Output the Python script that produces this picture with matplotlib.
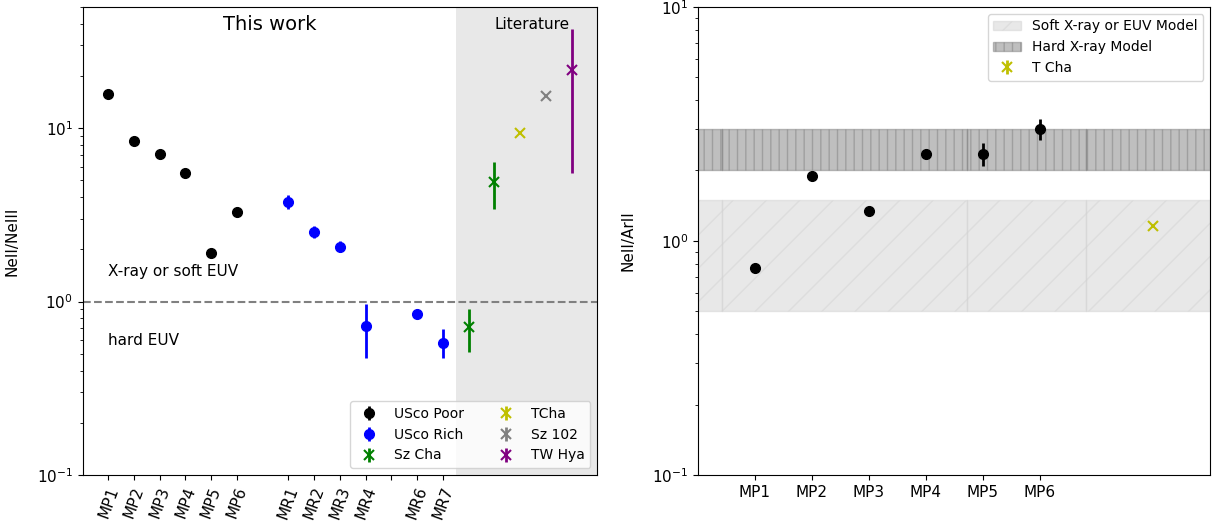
import numpy as np
import matplotlib
matplotlib.use('Agg')
import matplotlib.pyplot as plt
from matplotlib.patches import Patch

# left panel: NeII/NeIII
mp_labels = ['MP1', 'MP2', 'MP3', 'MP4', 'MP5', 'MP6']
mp_pos = [1, 2, 3, 4, 5, 6]
mp_ne3 = [15.7, 8.42, 7.09, 5.51, 1.91, 3.29]
mp_ne3_err = [0.3, 0.15, 0.12, 0.1, 0.05, 0.08]

mr_labels = ['MR1', 'MR2', 'MR3', 'MR4', '', 'MR6', 'MR7']
mr_pos = [8, 9, 10, 11, 12, 13, 14]
mr_pts_pos = [8, 9, 10, 11, 13, 14]
mr_ne3 = [3.76, 2.53, 2.07, 0.72, 0.853, 0.58]
mr_ne3_err = [0.35, 0.2, 0.15, 0.25, 0.05, 0.11]

szcha_pos = [15, 16]
szcha_ne3 = [0.71, 4.9]
szcha_err = [0.2, 1.5]
tcha_pos, tcha_ne3 = 17, 9.36
sz102_pos, sz102_ne3 = 18, 15.3
twhya_pos, twhya_ne3, twhya_err = 19, 21.5, 16.0

# right panel: NeII/ArII
ar_pos = [1, 2, 3, 4, 5, 6]
ar_vals = [0.767, 1.90, 1.34, 2.35, 2.35, 3.01]
ar_err = [0.03, 0.06, 0.05, 0.08, 0.27, 0.3]
tcha_ar_pos, tcha_ar = 8, 1.16
soft_model = (0.5, 1.5)
hard_model = (2.0, 3.0)
band_edges = [0, 0.42, 4.72, 6.82, 9]

fig = plt.figure(figsize=(12.14, 5.26), dpi=100)
ax1 = fig.add_axes([0.068, 0.097, 0.424, 0.89])
ax2 = fig.add_axes([0.575, 0.097, 0.422, 0.89])

# ---- left
ax1.axvspan(14.5, 20, color='#e8e8e8', lw=0, zorder=0)
ax1.axhline(1, color='gray', ls='--', lw=1.5, zorder=1)
ax1.errorbar(mp_pos, mp_ne3, yerr=mp_ne3_err, fmt='o', color='k', ms=7, elinewidth=2, label='USco Poor')
ax1.errorbar(mr_pts_pos, mr_ne3, yerr=mr_ne3_err, fmt='o', color='b', ms=7, elinewidth=2, label='USco Rich')
ax1.errorbar(szcha_pos, szcha_ne3, yerr=szcha_err, fmt='x', color='green', ms=7, mew=1.5, elinewidth=2, label='Sz Cha')
ax1.errorbar([tcha_pos], [tcha_ne3], yerr=[0.0], fmt='x', color='y', ms=7, mew=1.5, elinewidth=2, label='TCha')
ax1.errorbar([sz102_pos], [sz102_ne3], yerr=[0.0], fmt='x', color='gray', ms=7, mew=1.5, elinewidth=2, label='Sz 102')
ax1.errorbar([twhya_pos], [twhya_ne3], yerr=[twhya_err], fmt='x', color='purple', ms=7, mew=1.5, elinewidth=2, label='TW Hya')

ax1.set_yscale('log')
ax1.set_ylim(0.1, 50)
ax1.set_xlim(0, 20)
ax1.set_xticks(mp_pos + mr_pos)
ax1.set_xticklabels(mp_labels + mr_labels, rotation=70, fontsize=11)
ax1.tick_params(axis='y', labelsize=11)
ax1.set_ylabel('NeII/NeIII', fontsize=11, labelpad=12)
ax1.text(7.26, 39.6, 'This work', ha='center', va='center', fontsize=14)
ax1.text(17.46, 39.6, 'Literature', ha='center', va='center', fontsize=11)
ax1.text(1.0, 1.49, 'X-ray or soft EUV', ha='left', va='center', fontsize=11)
ax1.text(1.0, 0.6, 'hard EUV', ha='left', va='center', fontsize=11)
ax1.legend(ncol=2, loc='lower right', fontsize=10)

# ---- right
for a, b in zip(band_edges[:-1], band_edges[1:]):
    ax2.fill_between([a, b], soft_model[0], soft_model[1], color='lightgray', alpha=0.5, hatch='/')
    ax2.fill_between([a, b], hard_model[0], hard_model[1], color='gray', alpha=0.5, hatch='||')
ax2.errorbar(ar_pos, ar_vals, yerr=ar_err, fmt='o', color='k', ms=7, elinewidth=2)
ax2.errorbar([tcha_ar_pos], [tcha_ar], yerr=[0.0], fmt='x', color='y', ms=7, mew=1.5, elinewidth=2, label='T Cha')
ax2.set_yscale('log')
ax2.set_ylim(0.1, 10)
ax2.set_xlim(0, 9)
ax2.set_xticks(ar_pos)
ax2.set_xticklabels(mp_labels, fontsize=11)
ax2.tick_params(axis='y', labelsize=11)
ax2.set_ylabel('NeII/ArII', fontsize=11, labelpad=12)
handles, labels = ax2.get_legend_handles_labels()
soft_patch = Patch(facecolor='lightgray', edgecolor='lightgray', alpha=0.5, hatch='/', label='Soft X-ray or EUV Model')
hard_patch = Patch(facecolor='gray', edgecolor='gray', alpha=0.5, hatch='||', label='Hard X-ray Model')
ax2.legend([soft_patch, hard_patch] + handles, ['Soft X-ray or EUV Model', 'Hard X-ray Model'] + labels,
           loc='upper right', fontsize=10)

fig.savefig('out.png', dpi=100)
